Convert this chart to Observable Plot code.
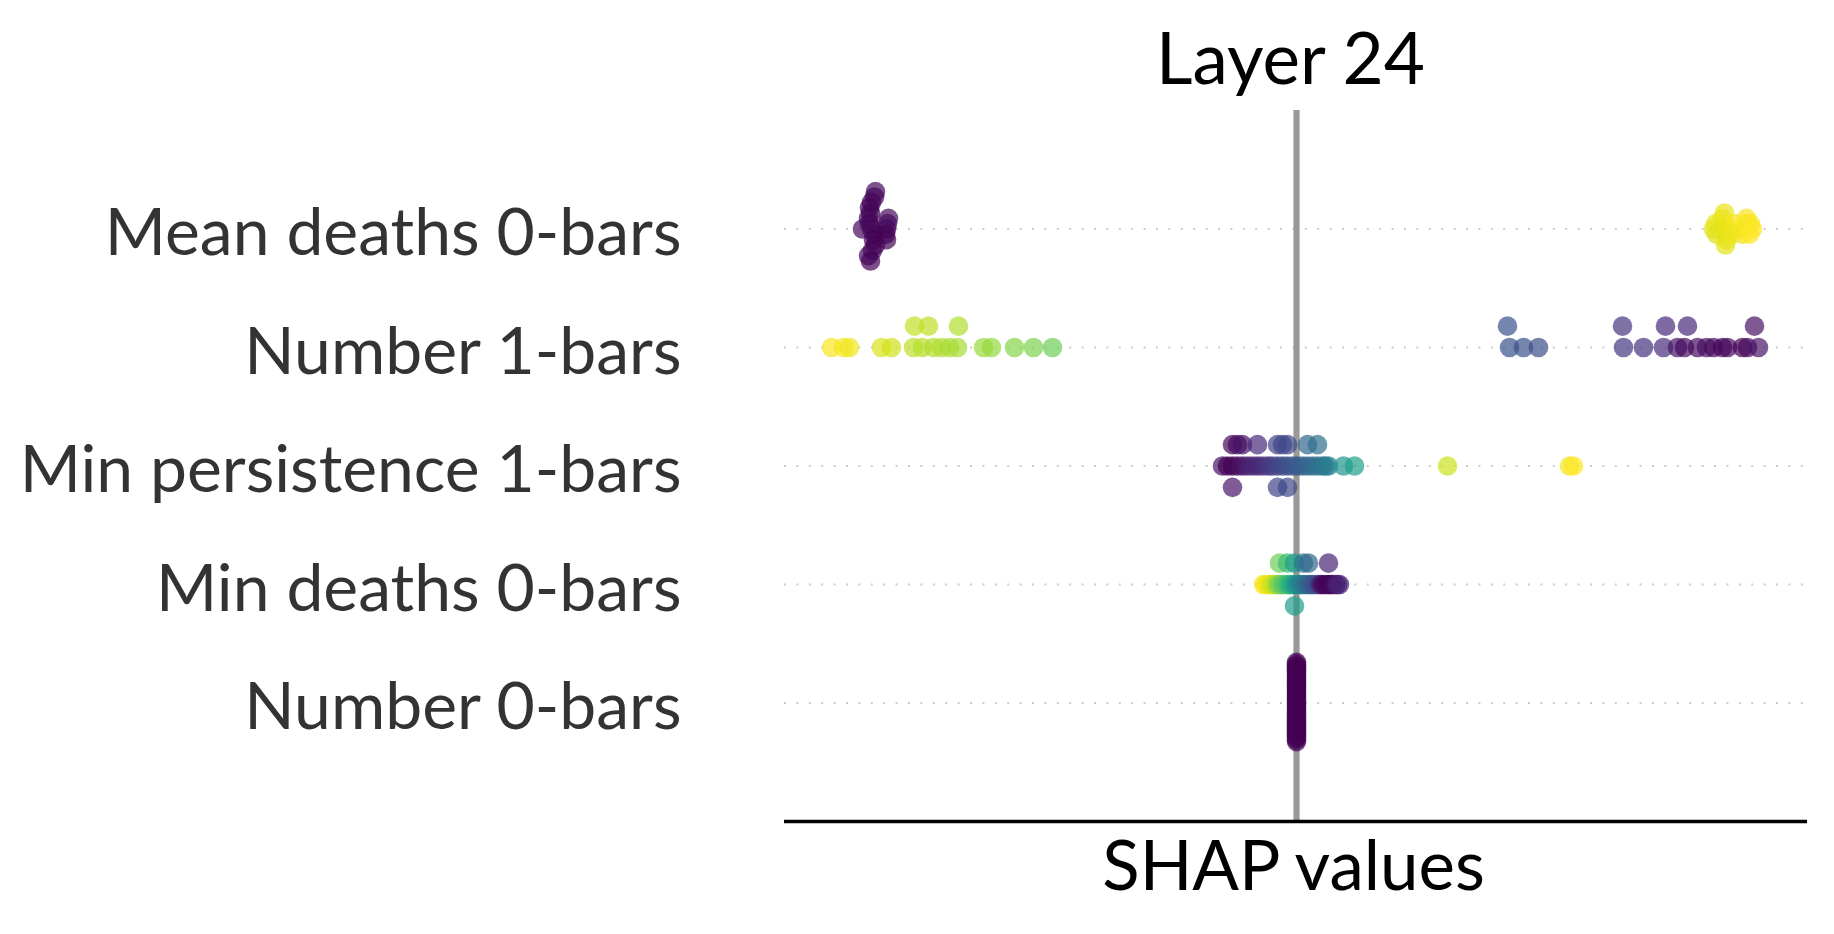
<!DOCTYPE html>
<html><head><meta charset="utf-8">
<script src="https://cdn.jsdelivr.net/npm/d3@7"></script>
<script src="https://cdn.jsdelivr.net/npm/@observablehq/plot@0.6"></script>
<style>html,body{margin:0;padding:0;background:#fff;}</style>
</head><body><div id="chart"></div>
<script>
// Features, bottom (index 0) to top
const features = ["Number 0-bars", "Min deaths 0-bars", "Min persistence 1-bars", "Number 1-bars", "Mean deaths 0-bars"];
const title = "Layer 24";
const xLabel = "SHAP values";

// SHAP values (x) and normalized feature values (colour) per feature
const number0Shap = [0,0,0,0,0,0,0,0,0,0, 0,0,0,0,0,0,0,0,0,0, 0,0,0,0,0,0,0,0,0,0, 0,0,0,0,0,0,0,0,0,0];
const number0Feat = [0,0,0,0,0,0,0,0,0,0, 0,0,0,0,0,0,0,0,0,0, 0,0,0,0,0,0,0,0,0,0, 0,0,0,0,0,0,0,0,0,0];

const minDeaths0Shap = [-0.033,-0.031,-0.028,-0.026,-0.024,-0.021,-0.019,-0.017,-0.014,-0.012,-0.009,-0.007,-0.005,-0.002,0,0.002,0.004,0.007,0.009,0.012,0.014,0.016,0.019,0.022,0.024,0.026,0.029,0.032,0.034,0.036,0.039,0.041,0.043,
  -0.017,-0.009,-0.002,0.007,0.012,0.032,
  -0.002];
const minDeaths0Feat = [0.99,0.98,0.97,0.95,0.93,0.88,0.84,0.80,0.76,0.73,0.70,0.66,0.62,0.56,0.52,0.48,0.44,0.40,0.37,0.34,0.31,0.28,0.25,0.20,0.10,0.03,0.00,0.02,0.00,0.02,0.05,0.08,0.10,
  0.78,0.68,0.55,0.38,0.33,0.10,
  0.55];

const minPers1Shap = [-0.074,-0.069,-0.064,-0.059,-0.054,-0.049,-0.044,-0.039,-0.034,-0.029,-0.024,-0.019,-0.014,-0.009,-0.004,0.001,0.006,0.011,0.016,0.021,0.026,0.029,0.032,0.047,0.058,0.151,0.273,0.277,
  -0.064,-0.059,-0.054,-0.039,-0.019,-0.014,-0.009,0.011,0.021,
  -0.064,-0.019,-0.009];
const minPers1Feat = [0.05,0.00,0.00,0.02,0.05,0.08,0.10,0.10,0.12,0.15,0.17,0.20,0.22,0.24,0.26,0.28,0.30,0.32,0.34,0.36,0.38,0.40,0.42,0.52,0.56,0.92,0.98,1.00,
  0.02,0.03,0.05,0.12,0.20,0.21,0.22,0.33,0.37,
  0.06,0.20,0.22];

const number1Shap = [-0.465,-0.453,-0.447,-0.415,-0.405,-0.383,-0.382,-0.374,-0.368,-0.363,-0.355,-0.347,-0.339,-0.338,-0.313,-0.305,-0.282,-0.263,-0.244,
  0.213,0.211,0.227,0.242,0.327,0.326,0.347,0.367,0.369,0.381,0.388,0.391,0.401,0.410,0.417,0.426,0.431,0.446,0.451,0.462,0.458];
const number1Feat = [0.99,0.99,0.98,0.94,0.93,0.90,0.91,0.89,0.90,0.88,0.88,0.87,0.87,0.88,0.85,0.84,0.82,0.80,0.78,
  0.25,0.26,0.25,0.24,0.16,0.15,0.14,0.13,0.12,0.05,0.03,0.12,0.03,0.04,0.02,0.01,0.02,0.00,0.02,0.06,0.05];

const meanDeaths0Shap = [-0.425,-0.427,-0.422,-0.428,-0.423,-0.426,-0.421,-0.427,-0.424,-0.425,-0.428,-0.422,-0.426,-0.421,
  -0.410,-0.409,-0.411,-0.408,-0.410,-0.434,
  0.417,0.419,0.420,0.428,0.427,0.429,0.426,0.430,0.428,0.429,0.437,0.439,0.435,0.448,0.449,0.446,0.450,0.456,0.454,0.453];
const meanDeaths0Feat = [0.00,0.01,0.00,0.02,0.00,0.01,0.00,0.02,0.01,0.00,0.03,0.01,0.00,0.02,
  0.01,0.02,0.00,0.03,0.01,0.02,
  0.95,0.96,0.95,0.96,0.95,0.97,0.96,0.95,0.97,0.96,0.98,0.99,0.97,0.99,1.00,0.98,0.99,1.00,0.99,1.00];

const rowsData = [
  [number0Shap, number0Feat],
  [minDeaths0Shap, minDeaths0Feat],
  [minPers1Shap, minPers1Feat],
  [number1Shap, number1Feat],
  [meanDeaths0Shap, meanDeaths0Feat]
];

// SHAP-style beeswarm vertical offsets (in row units)
function beeswarm(vals, rowHeight = 0.4, nbins = 100) {
  const N = vals.length;
  const mn = d3.min(vals), mx = d3.max(vals);
  const quant = vals.map(v => Math.round(nbins * (v - mn) / (mx - mn + 1e-8)));
  const inds = d3.range(N).sort((a, b) => (quant[a] - quant[b]) || (a - b));
  const ys = new Array(N).fill(0);
  let layer = 0, last = -1;
  for (const i of inds) {
    if (quant[i] !== last) layer = 0;
    ys[i] = Math.ceil(layer / 2) * ((layer % 2) * 2 - 1);
    layer++;
    last = quant[i];
  }
  const m = d3.max(ys, y => y + 1);
  return ys.map(y => y * 0.9 * rowHeight / m);
}

const points = rowsData.flatMap(([shap, feat], i) => {
  const off = beeswarm(shap);
  return shap.map((v, j) => ({x: v, y: i + off[j], c: feat[j]}));
});

const chart = Plot.plot({
  width: 1834,
  height: 934,
  marginLeft: 784,
  marginRight: 27,
  marginTop: 110,
  marginBottom: 113,
  style: {fontFamily: "Lato, 'DejaVu Sans', sans-serif", background: "white"},
  x: {domain: [-0.512, 0.511], axis: null},
  y: {domain: [-1, 5], axis: null},
  color: {type: "linear", scheme: "viridis", domain: [0, 1]},
  marks: [
    Plot.ruleY(d3.range(features.length), {stroke: "#cccccc", strokeWidth: 2, strokeDasharray: "2 10.4"}),
    Plot.ruleX([0], {stroke: "#999999", strokeWidth: 6.2}),
    Plot.dot(points, {x: "x", y: "y", r: 9.8, fill: "c", fillOpacity: 0.7}),
    Plot.ruleY([-1], {stroke: "black", strokeWidth: 3.3}),
    Plot.text(features, {y: (d, i) => i, text: d => d, frameAnchor: "left", textAnchor: "end", lineAnchor: "middle", dx: -103, dy: 5, fontSize: 66, fill: "#333333"}),
    Plot.text([xLabel], {frameAnchor: "bottom", lineAnchor: "middle", dx: -2.5, dy: 46, fontSize: 69, fill: "black"}),
    Plot.text([title], {frameAnchor: "top", lineAnchor: "middle", dx: -5.5, dy: -49.5, fontSize: 71, fill: "black"})
  ]
});
document.getElementById("chart").appendChild(chart);
</script>
</body></html>
